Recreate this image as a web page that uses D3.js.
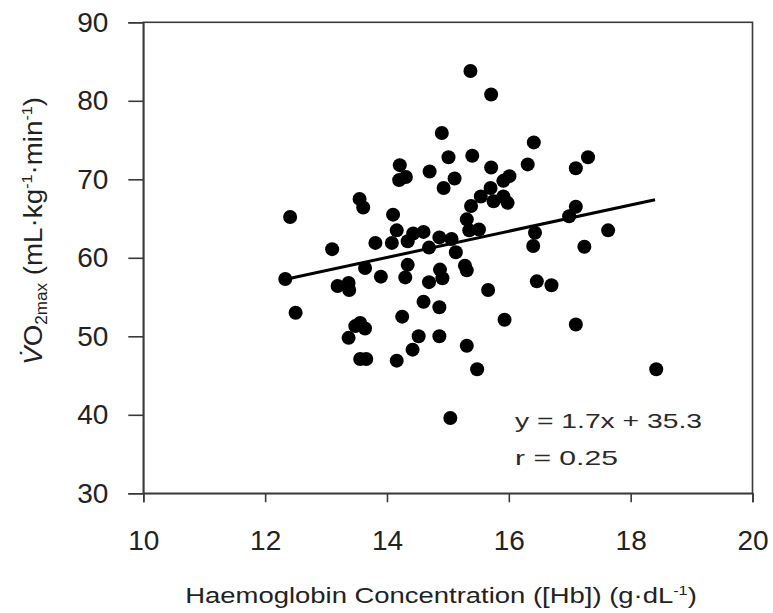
<!DOCTYPE html>
<html>
<head>
<meta charset="utf-8">
<script src="https://cdn.jsdelivr.net/npm/d3@7"></script>
<style>
  body { margin: 0; background: #fff; }
  svg { display: block; font-family: "Liberation Sans", Arial, sans-serif; }
</style>
</head>
<body>
<svg id="chart" width="773" height="613"></svg>
<script>
// haemoglobin concentration (g/dL) of each subject
const hb = [
  15.37, 15.71, 14.90, 15.01, 15.40, 14.21, 14.70, 15.71, 14.31, 14.20,
  15.11, 14.93, 16.01, 15.91, 15.70, 15.54, 15.75, 15.91, 15.98, 15.38,
  13.55, 13.61, 12.41, 14.10, 15.31, 15.35, 15.51, 14.16, 14.43, 14.60,
  14.34, 14.86, 15.06, 13.81, 14.08, 13.10, 14.69, 15.13, 12.33, 13.64,
  14.34, 14.87, 15.28, 15.31, 13.90, 14.30, 14.69, 14.91, 13.19, 13.37,
  13.38, 15.66, 12.50, 14.60, 14.86, 14.25, 15.93, 13.48, 13.56, 13.64,
  13.37, 14.52, 14.86, 15.31, 14.42, 13.56, 13.66, 14.16, 15.48, 15.04,
  16.41, 16.31, 17.30, 17.10, 17.10, 16.99, 16.43, 16.40, 17.63, 17.24,
  16.46, 16.70, 17.10, 18.42
];
// VO2max (mL/kg/min) of each subject
const vo2 = [
  83.8, 80.8, 75.9, 72.8, 73.0, 71.8, 71.0, 71.5, 70.3, 69.9,
  70.1, 68.9, 70.4, 69.8, 68.9, 67.8, 67.2, 67.8, 67.0, 66.6,
  67.5, 66.4, 65.2, 65.5, 64.9, 63.5, 63.6, 63.5, 63.1, 63.3,
  62.1, 62.6, 62.4, 61.9, 61.9, 61.1, 61.3, 60.7, 57.3, 58.7,
  59.1, 58.5, 59.0, 58.4, 57.6, 57.5, 56.9, 57.4, 56.4, 56.8,
  55.9, 55.9, 53.0, 54.4, 53.7, 52.5, 52.1, 51.3, 51.7, 51.0,
  49.8, 50.0, 50.0, 48.8, 48.3, 47.1, 47.1, 46.9, 45.8, 39.6,
  74.7, 71.9, 72.8, 71.4, 66.5, 65.3, 63.2, 61.5, 63.5, 61.4,
  57.0, 56.5, 51.5, 45.8
];
const xTicks = [10, 12, 14, 16, 18, 20];
const yTicks = [30, 40, 50, 60, 70, 80, 90];
// regression line ends as drawn
const fitX = [12.3, 18.4];
const fitY = [57.2, 67.4];
const eqLabel = "y = 1.7x + 35.3";
const rLabel = "r  = 0.25";

const svg = d3.select("#chart");
const margin = { top: 22.3, right: 20.5, bottom: 119.7, left: 143.3 };
const width = 773 - margin.left - margin.right;
const height = 613 - margin.top - margin.bottom;

const x = d3.scaleLinear().domain([10, 20]).range([0, width]);
const y = d3.scaleLinear().domain([30, 90]).range([height, 0]);

const g = svg.append("g").attr("transform", `translate(${margin.left},${margin.top})`);

// frame
g.append("rect")
  .attr("width", width).attr("height", height)
  .attr("fill", "none").attr("stroke", "#3a3a3a").attr("stroke-width", 1.6);

const xAxis = g.append("g")
  .attr("transform", `translate(0,${height})`)
  .call(d3.axisBottom(x).tickValues(xTicks).tickSize(9).tickPadding(28).tickFormat(d3.format("d")));
const yAxis = g.append("g")
  .call(d3.axisLeft(y).tickValues(yTicks).tickSize(15).tickPadding(20).tickFormat(d3.format("d")));

[xAxis, yAxis].forEach(a => {
  a.select(".domain").attr("stroke", "#3a3a3a").attr("stroke-width", 1.6);
  a.selectAll(".tick line").attr("stroke", "#3a3a3a").attr("stroke-width", 1.6);
  a.selectAll(".tick text")
    .attr("fill", "#222")
    .style("font-size", "28px")
    .style("font-family", '"Liberation Sans", Arial, sans-serif');
});

// points
g.selectAll(".dot")
  .data(hb.map((h, i) => ({ h, v: vo2[i] })))
  .join("circle")
  .attr("class", "dot")
  .attr("cx", d => x(d.h))
  .attr("cy", d => y(d.v))
  .attr("r", 7)
  .attr("fill", "#000");

// regression line
g.append("path")
  .datum(fitX.map((fx, i) => [fx, fitY[i]]))
  .attr("fill", "none")
  .attr("stroke", "#000")
  .attr("stroke-width", 3)
  .attr("d", d3.line().x(d => x(d[0])).y(d => y(d[1])));

// equation text
const eq = g.append("g").attr("fill", "#2a2a2a").style("font-size", "21px").style("white-space", "pre");
eq.append("text").attr("x", 515 - margin.left).attr("y", 428 - margin.top)
  .attr("textLength", 187).attr("lengthAdjust", "spacingAndGlyphs").text(eqLabel);
eq.append("text").attr("x", 515 - margin.left).attr("y", 465 - margin.top)
  .attr("textLength", 103).attr("lengthAdjust", "spacingAndGlyphs").text(rLabel);

// stretch a label along its own direction to a target length
const fitLength = (sel, target) => {
  const w = sel.node().getBBox().width;
  sel.attr("transform", `scale(${target / w},1)`);
};

// x axis title
const xt = svg.append("g").attr("transform", "translate(441,603)");
const xtText = xt.append("text")
  .attr("text-anchor", "middle").attr("fill", "#222").style("font-size", "22px");
xtText.append("tspan").text("Haemoglobin Concentration ([Hb]) (g\u00B7dL");
xtText.append("tspan").attr("dy", -8).style("font-size", "13px").text("-1");
xtText.append("tspan").attr("dy", 8).text(")");
fitLength(xtText, 512);

// y axis title
const yt = svg.append("g").attr("transform", "translate(42,231) rotate(-90)");
const ytText = yt.append("text")
  .attr("text-anchor", "middle").attr("fill", "#222").style("font-size", "26px");
ytText.append("tspan").style("font-style", "italic").text("V\u0307");
ytText.append("tspan").text("O");
ytText.append("tspan").attr("dy", 5).style("font-size", "16px").text("2max");
ytText.append("tspan").attr("dy", -5).text(" (mL\u00B7kg");
ytText.append("tspan").attr("dy", -10).style("font-size", "15px").text("-1");
ytText.append("tspan").attr("dy", 10).text("\u00B7min");
ytText.append("tspan").attr("dy", -10).style("font-size", "15px").text("-1");
ytText.append("tspan").attr("dy", 10).text(")");
fitLength(ytText, 268);
</script>
</body>
</html>
